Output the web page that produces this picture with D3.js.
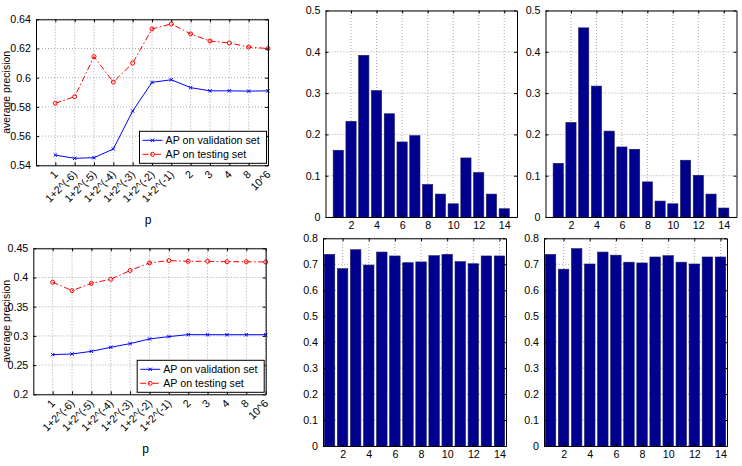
<!DOCTYPE html>
<html>
<head>
<meta charset="utf-8">
<script src="https://cdn.jsdelivr.net/npm/d3@7"></script>
<style>
  body { margin: 0; background: #fff; }
  svg { display: block; font-family: "Liberation Sans", Arial, sans-serif; }
</style>
</head>
<body>
<svg id="chart" width="742" height="466"></svg>
<script>
// x categories of the two line plots
const pLabels = ["1", "1+2^(-6)", "1+2^(-5)", "1+2^(-4)", "1+2^(-3)", "1+2^(-2)",
  "1+2^(-1)", "2", "3", "4", "8", "10^6"];

// AP curves, upper left plot
const validTop = [0.547, 0.5448, 0.5452, 0.5512, 0.5772, 0.5968, 0.5986, 0.5932, 0.591, 0.591, 0.5908, 0.591];
const testTop = [0.5825, 0.587, 0.6144, 0.597, 0.610, 0.6334, 0.6368, 0.630, 0.6251, 0.6238, 0.621, 0.620];

// AP curves, lower left plot
const validBottom = [0.268, 0.269, 0.2736, 0.2805, 0.2868, 0.2948, 0.2988, 0.3022, 0.302, 0.302, 0.302, 0.302];
const testBottom = [0.392, 0.3775, 0.390, 0.397, 0.412, 0.425, 0.4289, 0.4277, 0.4277, 0.427, 0.427, 0.4266];

const yTicksTop = [0.54, 0.56, 0.58, 0.6, 0.62, 0.64];
const yTicksBottom = [0.2, 0.25, 0.3, 0.35, 0.4, 0.45];
const legendNames = ["AP on validation set", "AP on testing set"];

// bar plots
const barIds = [1, 2, 3, 4, 5, 6, 7, 8, 9, 10, 11, 12, 13, 14];
const barsTopLeft = [0.1616, 0.2315, 0.3915, 0.306, 0.25, 0.1817, 0.197, 0.0788, 0.0555, 0.032, 0.143, 0.1077, 0.0555, 0.020];
const barsTopRight = [0.130, 0.229, 0.458, 0.317, 0.208, 0.1696, 0.164, 0.085, 0.0386, 0.032, 0.1375, 0.101, 0.0555, 0.0217];
const barsBottomLeft = [0.738, 0.683, 0.756, 0.697, 0.747, 0.732, 0.706, 0.709, 0.733, 0.738, 0.710, 0.702, 0.732, 0.732];
const barsBottomRight = [0.738, 0.681, 0.760, 0.701, 0.747, 0.735, 0.708, 0.705, 0.728, 0.733, 0.708, 0.701, 0.728, 0.728];

const barXTicks = [2, 4, 6, 8, 10, 12, 14];
const barYTicksTop = [0, 0.1, 0.2, 0.3, 0.4, 0.5];
const barYTicksBottom = [0, 0.1, 0.2, 0.3, 0.4, 0.5, 0.6, 0.7, 0.8];

const svg = d3.select("#chart");
const FONT = "10.7px";
const GRID = "#a8a8a8";
const BAR = "#00008f";

/**
 * Builds the linear scales of one subplot.
 * @param {Object} box - pixel edges of the axes
 * @param {Array} xDom - x limits
 * @param {Array} yDom - y limits
 */
function scales(box, xDom, yDom) {
  return {
    x: d3.scaleLinear().domain(xDom).range([box.left, box.right]),
    y: d3.scaleLinear().domain(yDom).range([box.bottom, box.top])
  };
}

/**
 * Dotted grid lines, drawn before the data.
 */
function drawGrid(g, s, xTicks, yTicks) {
  const [x0, x1] = s.x.range();
  const [y0, y1] = s.y.range();
  g.append("g")
    .selectAll("line")
    .data(xTicks)
    .join("line")
    .attr("x1", (d) => s.x(d))
    .attr("x2", (d) => s.x(d))
    .attr("y1", y0)
    .attr("y2", y1)
    .attr("stroke", GRID)
    .attr("stroke-dasharray", "1,2");
  g.append("g")
    .selectAll("line")
    .data(yTicks)
    .join("line")
    .attr("x1", x0)
    .attr("x2", x1)
    .attr("y1", (d) => s.y(d))
    .attr("y2", (d) => s.y(d))
    .attr("stroke", GRID)
    .attr("stroke-dasharray", "1,2");
}

/**
 * Box with inward ticks on all four sides, labels on left and bottom.
 * Returns the bottom axis group so the caller can restyle its labels.
 */
function drawBox(g, s, xTicks, yTicks, xFormat) {
  const [x0, x1] = s.x.range();
  const [y0, y1] = s.y.range();

  const left = g.append("g")
    .attr("transform", "translate(" + x0 + ",0)")
    .call(d3.axisLeft(s.y).tickValues(yTicks).tickSize(-3).tickSizeOuter(0)
      .tickPadding(5).tickFormat((d) => String(d)));
  const right = g.append("g")
    .attr("transform", "translate(" + x1 + ",0)")
    .call(d3.axisRight(s.y).tickValues(yTicks).tickSize(-3).tickSizeOuter(0).tickFormat(""));
  const top = g.append("g")
    .attr("transform", "translate(0," + y1 + ")")
    .call(d3.axisTop(s.x).tickValues(xTicks).tickSize(-3).tickSizeOuter(0).tickFormat(""));
  const bottom = g.append("g")
    .attr("transform", "translate(0," + y0 + ")")
    .call(d3.axisBottom(s.x).tickValues(xTicks).tickSize(-3).tickSizeOuter(0)
      .tickPadding(4).tickFormat(xFormat));

  [left, right, top, bottom].forEach((a) => {
    a.select(".domain").attr("stroke", "#000").attr("stroke-width", 1);
    a.selectAll(".tick line").attr("stroke", "#000");
    a.selectAll("text")
      .attr("fill", "#000")
      .attr("font-size", FONT)
      .attr("font-family", "Liberation Sans, Arial, sans-serif");
  });
  return bottom;
}

/**
 * One of the two "average precision vs p" plots.
 */
function linePlot(box, yDom, yTicks, valid, test) {
  const g = svg.append("g");
  const s = scales(box, [0, 12], yDom);
  const xTicks = d3.range(1, 13);

  drawGrid(g, s, xTicks, yTicks);

  const line = d3.line()
    .x((d, i) => s.x(i + 1))
    .y((d) => s.y(d));

  g.append("path")
    .datum(test)
    .attr("d", line)
    .attr("fill", "none")
    .attr("stroke", "#ff0000")
    .attr("stroke-width", 1)
    .attr("stroke-dasharray", "6,2.5,1.5,2.5");
  g.append("g")
    .selectAll("circle")
    .data(test)
    .join("circle")
    .attr("cx", (d, i) => s.x(i + 1))
    .attr("cy", (d) => s.y(d))
    .attr("r", 2)
    .attr("fill", "none")
    .attr("stroke", "#ff0000");

  g.append("path")
    .datum(valid)
    .attr("d", line)
    .attr("fill", "none")
    .attr("stroke", "#0000ff")
    .attr("stroke-width", 1);
  g.append("g")
    .selectAll("path")
    .data(valid)
    .join("path")
    .attr("d", (d, i) => {
      const cx = s.x(i + 1), cy = s.y(d), r = 1.7;
      return "M" + (cx - r) + "," + (cy - r) + "L" + (cx + r) + "," + (cy + r) +
        "M" + (cx - r) + "," + (cy + r) + "L" + (cx + r) + "," + (cy - r);
    })
    .attr("stroke", "#0000ff");

  const bottom = drawBox(g, s, xTicks, yTicks, (d) => pLabels[d - 1]);
  bottom.selectAll("text")
    .attr("text-anchor", "end")
    .attr("y", 0)
    .attr("dy", "0.35em")
    .attr("transform", "translate(0,7) rotate(-45)");

  // legend, lower right corner of the axes
  const lw = 127, lh = 32;
  const lx = box.right - 1.5 - lw, ly = box.bottom - 2 - lh;
  const leg = g.append("g").attr("transform", "translate(" + lx + "," + ly + ")");
  leg.append("rect")
    .attr("width", lw)
    .attr("height", lh)
    .attr("fill", "#fff")
    .attr("stroke", "#000");
  const rows = [
    { name: legendNames[0], color: "#0000ff", dash: null, cy: 9 },
    { name: legendNames[1], color: "#ff0000", dash: "6,2.5,1.5,2.5", cy: 23 }
  ];
  rows.forEach((r, k) => {
    leg.append("line")
      .attr("x1", 3).attr("x2", 23)
      .attr("y1", r.cy).attr("y2", r.cy)
      .attr("stroke", r.color)
      .attr("stroke-dasharray", r.dash);
    if (k == 0) {
      leg.append("path")
        .attr("d", "M11.3,7.3L14.7,10.7M11.3,10.7L14.7,7.3")
        .attr("stroke", r.color);
    } else {
      leg.append("circle")
        .attr("cx", 13).attr("cy", r.cy).attr("r", 2)
        .attr("fill", "none").attr("stroke", r.color);
    }
    leg.append("text")
      .text(r.name)
      .attr("x", 26)
      .attr("y", r.cy)
      .attr("dy", "0.35em")
      .attr("font-size", FONT);
  });

  // axis titles
  g.append("text")
    .text("average precision")
    .attr("text-anchor", "middle")
    .attr("font-size", "10.5px")
    .attr("transform", "translate(10," + (box.top + box.bottom) / 2 + ") rotate(-90)");
  g.append("text")
    .text("p")
    .attr("text-anchor", "middle")
    .attr("font-size", "12px")
    .attr("x", (box.left + box.right) / 2 - 4)
    .attr("y", box.bottom + 59);
}

/**
 * One of the four histogram-like bar plots.
 */
function barPlot(box, xDom, yDom, yTicks, values) {
  const g = svg.append("g");
  const s = scales(box, xDom, yDom);
  const step = s.x(1) - s.x(0);
  const bw = step * 0.8;

  drawGrid(g, s, barXTicks, yTicks);

  g.append("g")
    .selectAll("rect")
    .data(values)
    .join("rect")
    .attr("x", (d, i) => s.x(barIds[i]) - bw / 2)
    .attr("width", bw)
    .attr("y", (d) => s.y(d))
    .attr("height", (d) => s.y(0) - s.y(d))
    .attr("fill", BAR)
    .attr("stroke", "#1c1c5c")
    .attr("stroke-width", 0.6);

  drawBox(g, s, barXTicks, yTicks, (d) => String(d));
}

linePlot({ left: 36, right: 268, top: 19.3, bottom: 165.3 }, [0.54, 0.64], yTicksTop, validTop, testTop);
linePlot({ left: 33.3, right: 265.7, top: 248.3, bottom: 394.3 }, [0.2, 0.45], yTicksBottom, validBottom, testBottom);

barPlot({ left: 325.5, right: 517, top: 10.5, bottom: 217 }, [0, 15], [0, 0.5], barYTicksTop, barsTopLeft);
barPlot({ left: 545.5, right: 736.5, top: 10.5, bottom: 217 }, [0, 15], [0, 0.5], barYTicksTop, barsTopRight);
barPlot({ left: 323, right: 506, top: 238.3, bottom: 446 }, [0.5, 14.5], [0, 0.8], barYTicksBottom, barsBottomLeft);
barPlot({ left: 544, right: 727, top: 238.3, bottom: 446 }, [0.5, 14.5], [0, 0.8], barYTicksBottom, barsBottomRight);
</script>
</body>
</html>
